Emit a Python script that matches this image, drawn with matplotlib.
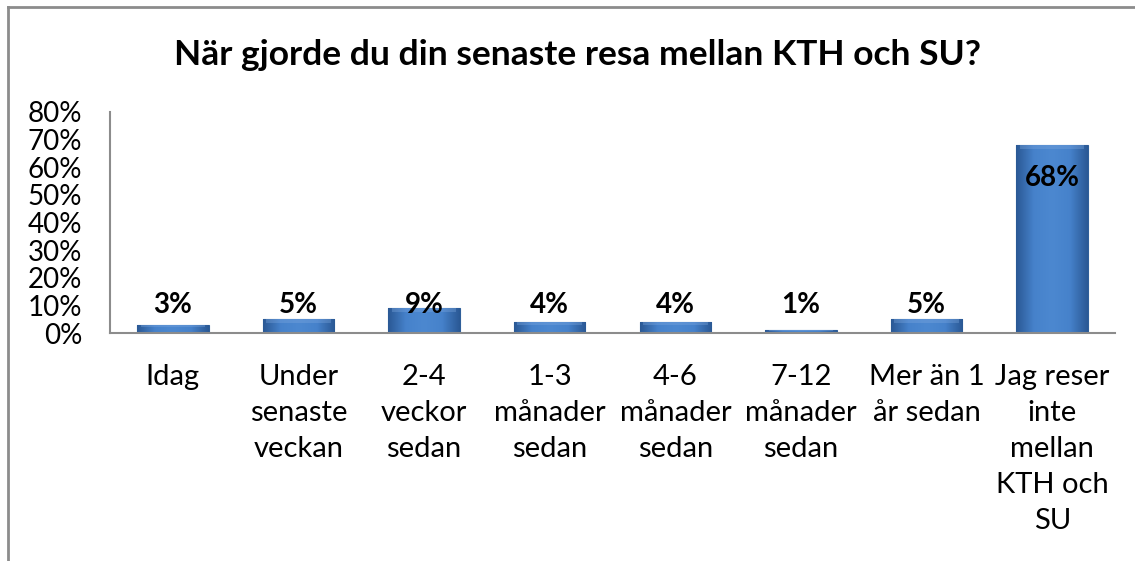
import numpy as np
import matplotlib
matplotlib.use("Agg")
import matplotlib.pyplot as plt
from matplotlib.colors import LinearSegmentedColormap
from matplotlib.lines import Line2D

# Data
categories = [
    "Idag",
    "Under\nsenaste\nveckan",
    "2-4\nveckor\nsedan",
    "1-3\nmånader\nsedan",
    "4-6\nmånader\nsedan",
    "7-12\nmånader\nsedan",
    "Mer än 1\når sedan",
    "Jag reser\ninte\nmellan\nKTH och\nSU",
]
shares = [3, 5, 9, 4, 4, 1, 5, 68]
yticks = [0, 10, 20, 30, 40, 50, 60, 70, 80]
title = "När gjorde du din senaste resa mellan KTH och SU?"

plt.rcParams["font.family"] = ["Lato", "DejaVu Sans"]

fig = plt.figure(figsize=(11.35, 5.61), dpi=100, facecolor="white")
ax = fig.add_axes([0.0969, 0.4064, 0.8855, 0.394])

x = np.arange(len(categories))
bars = ax.bar(x, shares, width=0.57, color="#4A7FC4", edgecolor="#2F5F9A",
              linewidth=0.8, zorder=2)

# bevel-like gradient inside each bar
cmap = LinearSegmentedColormap.from_list(
    "bevel", ["#2A5894", "#4682CB", "#4C88D0", "#4682CB", "#2A5894"])
grad = np.linspace(0, 1, 256).reshape(1, -1)
for b in bars:
    x0, y0 = b.get_x(), b.get_y()
    w, h = b.get_width(), b.get_height()
    im = ax.imshow(grad, cmap=cmap, aspect="auto", extent=[x0, x0 + w, y0, y0 + h],
                   zorder=2.5, interpolation="bicubic")
    im.set_clip_path(b)
    # soft lighter top edge
    top = min(h * 0.3, 1.4)
    ax.fill_between([x0 + w * 0.05, x0 + w * 0.95], y0 + h - top, y0 + h,
                    color="#7FA9E0", alpha=0.35, lw=0, zorder=2.6)

for xi, v in zip(x, shares):
    ypos = 10 if v < 20 else v - 12
    ax.text(xi, ypos, f"{v}%", ha="center", va="center", fontsize=20,
            fontweight="bold", color="black", zorder=3)

ax.set_xlim(-0.5, len(categories) - 0.5)
ax.set_ylim(0, 80)
ax.set_yticks(yticks)
ax.set_yticklabels([f"{t}%" for t in yticks], fontsize=20)
ax.set_xticks(x)
ax.set_xticklabels(categories, fontsize=21, linespacing=1.48, va="top")
ax.tick_params(axis="y", length=0, pad=20)
ax.tick_params(axis="x", length=0, pad=22)
for s in ["top", "right"]:
    ax.spines[s].set_visible(False)
for s in ["left", "bottom"]:
    ax.spines[s].set_color("#8C8C8C")
    ax.spines[s].set_linewidth(1.5)

fig.text(0.509, 0.902, title, ha="center", va="center", fontsize=25.5,
         fontweight="bold", color="black")

# outer chart frame (top and left edges visible)
fig.add_artist(Line2D([0.0071, 1.0], [0.9875, 0.9875], color="#8C8C8C", lw=2,
                      transform=fig.transFigure))
fig.add_artist(Line2D([0.0071, 0.0071], [0.0, 0.9875], color="#8C8C8C", lw=2,
                      transform=fig.transFigure))

fig.savefig("out.png", dpi=100, facecolor="white")
